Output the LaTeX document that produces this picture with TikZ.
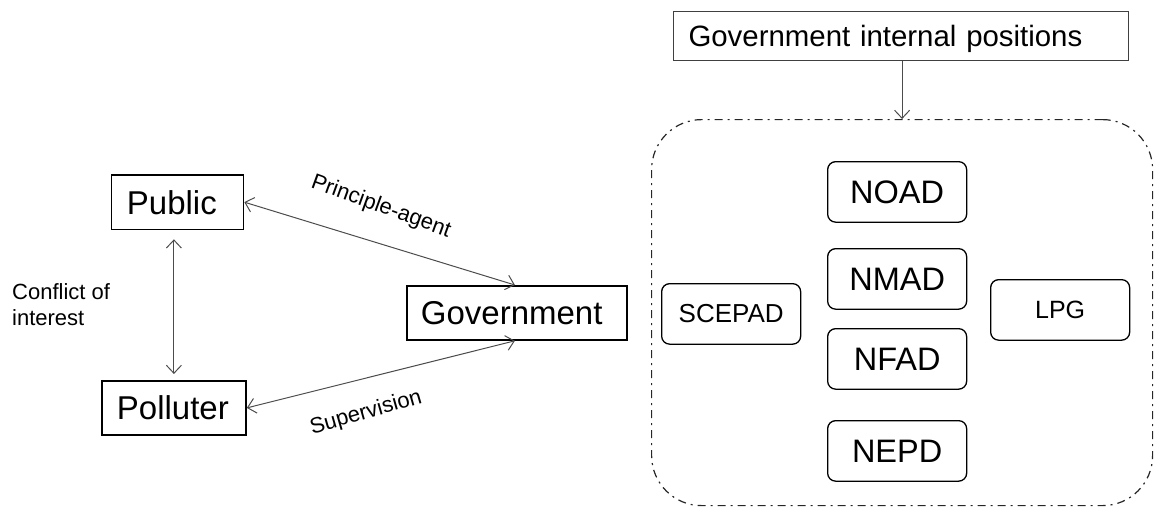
\documentclass[tikz,border=0pt]{standalone}
\usepackage{fontspec}
\setmainfont{Liberation Sans}
\usetikzlibrary{arrows.meta}
\tikzset{
  x=1pt,y=-1pt,
  sqbox/.style={draw=black,line width=1.8pt,inner ysep=0pt,anchor=north west,font=\fontsize{33}{36}\selectfont,align=left,text height=24pt,text depth=0pt},
  topbox/.style={draw=black!75,line width=1pt,inner ysep=0pt,anchor=north west,font=\fontsize{29.4}{34}\selectfont,align=left,text height=22pt,text depth=0pt},
  roundbox/.style={draw=black,line width=1.3pt,rounded corners=8pt,minimum width=139pt,minimum height=60.5pt,inner sep=0pt,anchor=north west,font=\fontsize{32.5}{36}\selectfont},
  smalltext/.style={inner sep=0pt,font=\fontsize{22}{26}\selectfont},
  link/.style={draw=black!70,line width=1pt,{Straight Barb[length=8pt,width=15pt]}-{Straight Barb[length=8pt,width=15pt]}},
  oneway/.style={draw=black!70,line width=1pt,-{Straight Barb[length=8pt,width=15pt]}},
  group/.style={draw=black!85,line width=1.2pt,rounded corners=50pt,dash pattern=on 8pt off 5pt on 2pt off 5pt,inner sep=0pt,anchor=north west},
}
\begin{document}
\begin{tikzpicture}
\useasboundingbox (0,0) rectangle (1158,507);
% left part
\node[sqbox,text width=101pt,inner xsep=15.5pt,minimum height=54.5pt] (pub) at (110.5,174) {Public};
\node[sqbox,text width=114pt,inner xsep=15pt,minimum height=54pt] (pol) at (101,380) {Polluter};
\node[sqbox,text width=192pt,inner xsep=14pt,minimum height=54pt] (gov) at (406,285) {Government};
\node[smalltext,anchor=north west,align=left] (coi) at (12,283) {Conflict of\\interest};
\node[smalltext,rotate=-20] (pa) at (381,207) {Principle-agent};
\node[smalltext,rotate=16] (sup) at (366,413) {Supervision};
\draw[link] (pub.east) -- ([xshift=-2pt]gov.north);
\draw[link] (pol.east) -- ([xshift=-2pt]gov.south);
\draw[link,shorten <=9pt,shorten >=6pt] (pol.north |- pub.south) -- (pol.north);
% right part
\node[topbox,text width=425pt,inner xsep=15pt,minimum height=49.5pt] (top) at (673,10.5) {Government internal positions};
\node[group,minimum width=501pt,minimum height=386pt] (grp) at (651,119) {};
\draw[oneway] (top.south -| grp.north) -- (grp.north);
\node[roundbox] (noad) at (827,161) {NOAD};
\node[roundbox] (nmad) at (827,248) {NMAD};
\node[roundbox] (nfad) at (827,328) {NFAD};
\node[roundbox] (nepd) at (827,420) {NEPD};
\node[roundbox,font=\fontsize{26}{30}\selectfont] (scepad) at (661,283) {SCEPAD};
\node[roundbox,font=\fontsize{25}{28}\selectfont] (lpg) at (990,279) {LPG};
\end{tikzpicture}
\end{document}
